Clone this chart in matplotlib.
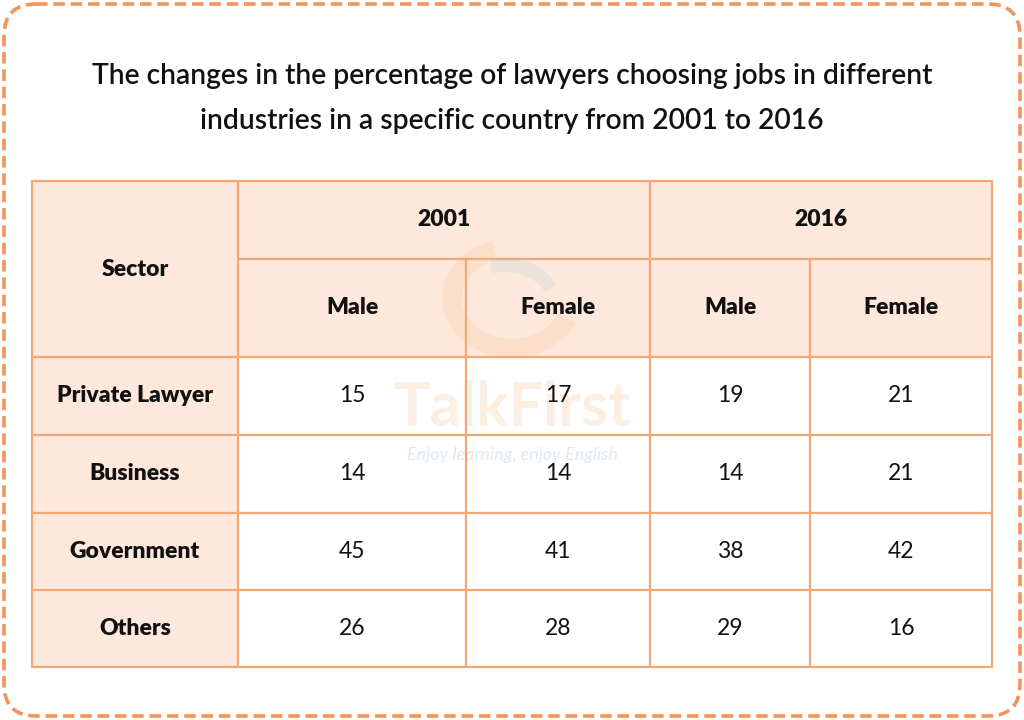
import matplotlib.pyplot as plt
from matplotlib.patches import Rectangle, FancyBboxPatch, Arc

# Data
sectors = ['Private Lawyer', 'Business', 'Government', 'Others']
years = ['2001', '2016']
genders = ['Male', 'Female']
values_2001_male = [15, 14, 45, 26]
values_2001_female = [17, 14, 41, 28]
values_2016_male = [19, 14, 38, 29]
values_2016_female = [21, 21, 42, 16]

title_lines = ['The changes in the percentage of lawyers choosing jobs in different',
               'industries in a specific country from 2001 to 2016']

plt.rcParams['font.family'] = ['Lato', 'DejaVu Sans']

orange = '#F4945A'
line_col = '#F2A775'
fill_col = '#FDE8DB'

fig = plt.figure(figsize=(10.24, 7.2), dpi=100)
ax = fig.add_axes([0, 0, 1, 1])
ax.set_xlim(0, 1024)
ax.set_ylim(720, 0)
ax.axis('off')

# dashed rounded frame
frame = FancyBboxPatch((4, 4), 1016, 712, boxstyle='round,pad=0,rounding_size=32',
                       fill=False, ec=orange, lw=2.6, ls=(0, (3.2, 1.6)))
ax.add_patch(frame)

for y, line in zip([76, 121], title_lines):
    ax.text(512, y, line, ha='center', va='center', fontsize=20.3,
            fontweight='semibold', color='#111111')

# table geometry
col_edges = [32, 238, 466, 650, 810, 992]
row_edges = [181, 259, 357, 435, 513, 590, 667]
columns = [values_2001_male, values_2001_female, values_2016_male, values_2016_female]

# backgrounds
ax.add_patch(Rectangle((col_edges[0], row_edges[0]), col_edges[-1] - col_edges[0],
                       row_edges[2] - row_edges[0], fc=fill_col, ec='none', zorder=1))
ax.add_patch(Rectangle((col_edges[0], row_edges[2]), col_edges[1] - col_edges[0],
                       row_edges[-1] - row_edges[2], fc=fill_col, ec='none', zorder=1))

# watermark
ax.add_patch(Arc((512, 298), 120, 100, theta1=20, theta2=250, lw=14,
                 color='#FAD6B8', alpha=0.45, zorder=2))
ax.add_patch(Arc((505, 305), 100, 80, theta1=250, theta2=340, lw=10,
                 color='#DDDDDD', alpha=0.5, zorder=2))
ax.text(512, 408, 'TalkFirst', ha='center', va='center', fontsize=44,
        fontweight='bold', color='#FDEADB', alpha=0.8, zorder=2)
ax.text(512, 455, 'Enjoy learning, enjoy English', ha='center', va='center',
        fontsize=13, style='italic', color='#DCE6F1', alpha=0.9, zorder=2)

lw = 1.6
kw = dict(color=line_col, lw=lw, zorder=3)
# outer border
ax.plot([col_edges[0], col_edges[-1], col_edges[-1], col_edges[0], col_edges[0]],
        [row_edges[0], row_edges[0], row_edges[-1], row_edges[-1], row_edges[0]], **kw)
# horizontal lines
ax.plot([col_edges[1], col_edges[-1]], [row_edges[1]] * 2, **kw)
for y in row_edges[2:-1]:
    ax.plot([col_edges[0], col_edges[-1]], [y, y], **kw)
# vertical lines
ax.plot([col_edges[1]] * 2, [row_edges[0], row_edges[-1]], **kw)
ax.plot([col_edges[3]] * 2, [row_edges[0], row_edges[-1]], **kw)
for x in (col_edges[2], col_edges[4]):
    ax.plot([x, x], [row_edges[1], row_edges[-1]], **kw)

# header text
hkw = dict(ha='center', va='center', fontsize=16.5, fontweight='heavy', color='#111111', zorder=4)
ax.text((col_edges[0] + col_edges[1]) / 2, (row_edges[0] + row_edges[2]) / 2, 'Sector', **hkw)
for i, yr in enumerate(years):
    x0, x1 = col_edges[1 + 2 * i], col_edges[3 + 2 * i]
    ax.text((x0 + x1) / 2, (row_edges[0] + row_edges[1]) / 2, yr, **hkw)
    for j, g in enumerate(genders):
        c = 1 + 2 * i + j
        ax.text((col_edges[c] + col_edges[c + 1]) / 2, (row_edges[1] + row_edges[2]) / 2, g, **hkw)

# body
for r, s in enumerate(sectors):
    yc = (row_edges[2 + r] + row_edges[3 + r]) / 2
    ax.text((col_edges[0] + col_edges[1]) / 2, yc, s, **hkw)
    for c, col in enumerate(columns):
        ax.text((col_edges[1 + c] + col_edges[2 + c]) / 2, yc, str(col[r]), ha='center',
                va='center', fontsize=16.5, color='#111111', zorder=4)

fig.savefig('out.png', dpi=100)
